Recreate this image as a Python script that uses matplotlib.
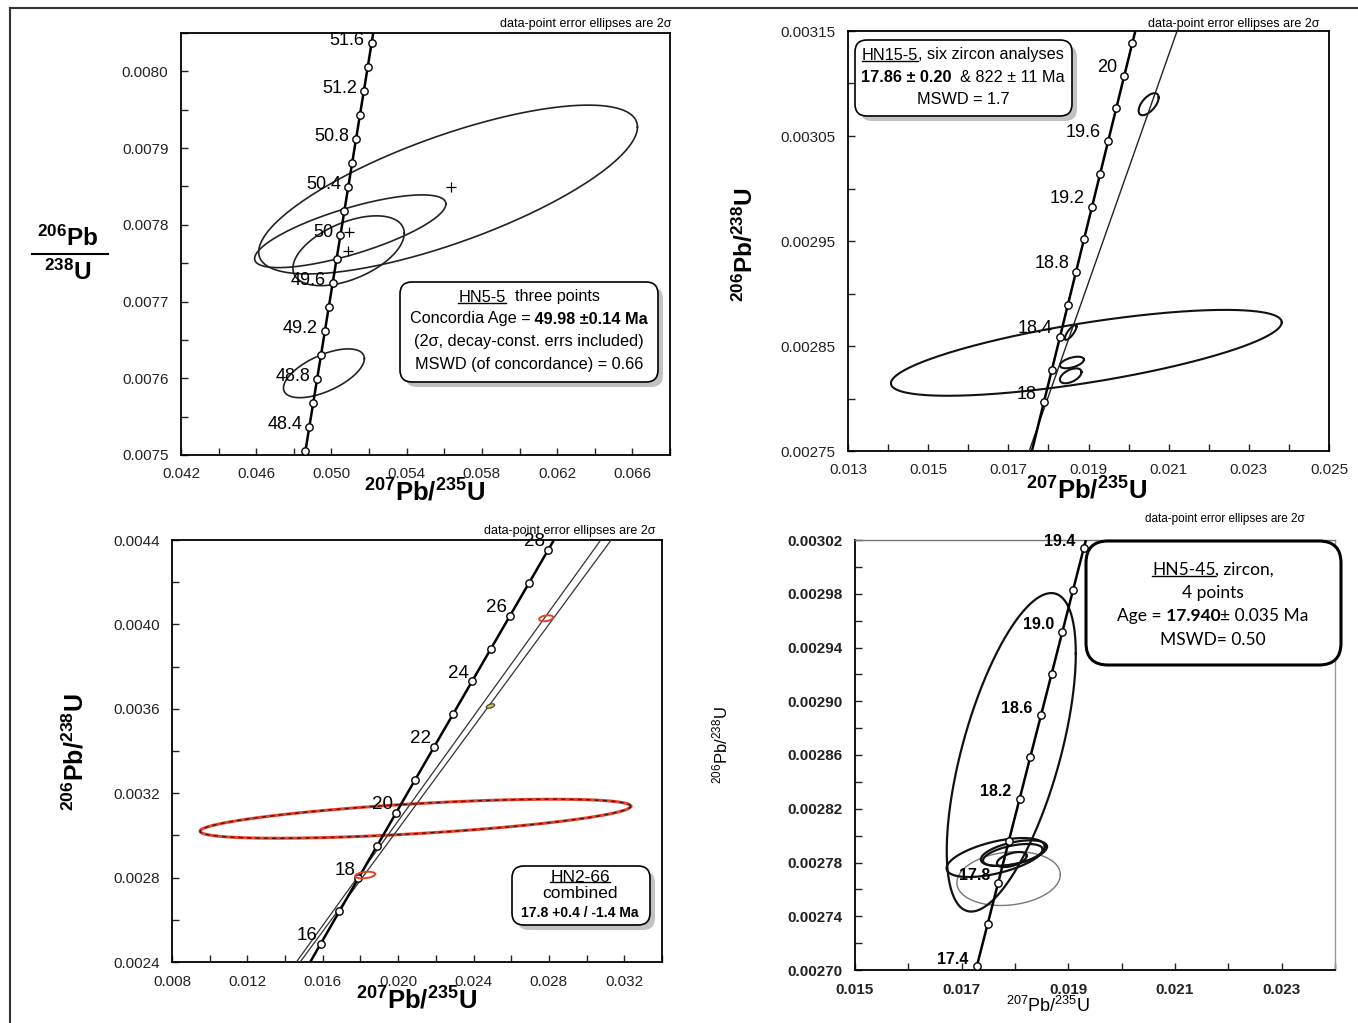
import numpy as np
import matplotlib
matplotlib.use('Agg')
import matplotlib.pyplot as plt
from matplotlib.patches import FancyBboxPatch
from matplotlib.lines import Line2D
from matplotlib.ticker import FixedLocator, FormatStrFormatter
from matplotlib.transforms import IdentityTransform

W, H = 1358, 1023
NARROW = ['Liberation Sans Narrow', 'Liberation Sans', 'DejaVu Sans']
ARIAL = ['Liberation Sans', 'DejaVu Sans']
CALIB = ['Lato', 'Liberation Sans', 'DejaVu Sans']

plt.rcParams['font.family'] = NARROW
plt.rcParams['mathtext.fontset'] = 'custom'
plt.rcParams['mathtext.rm'] = 'Liberation Sans'
plt.rcParams['mathtext.bf'] = 'Liberation Sans:bold'
plt.rcParams['mathtext.it'] = 'Liberation Sans:italic'

# ---------------- panel 1 : HN5-5 ----------------
p1_ages = [48.2, 48.4, 48.6, 48.8, 49.0, 49.2, 49.4, 49.6, 49.8, 50.0,
           50.2, 50.4, 50.6, 50.8, 51.0, 51.2, 51.4, 51.6]
p1_conc_x = [0.048615, 0.048821, 0.049028, 0.049235, 0.049442, 0.049649, 0.049855, 0.050062, 0.050269,
             0.050476, 0.050683, 0.050890, 0.051097, 0.051304, 0.051511, 0.051718, 0.051925, 0.052132]
p1_conc_y = [0.0075050, 0.0075363, 0.0075675, 0.0075988, 0.0076300, 0.0076613, 0.0076925, 0.0077238, 0.0077551,
             0.0077863, 0.0078176, 0.0078489, 0.0078801, 0.0079114, 0.0079427, 0.0079739, 0.0080052, 0.0080365]
p1_tail_x = [0.052235]
p1_tail_y = [0.0080521]
p1_label_ages = [48.4, 48.8, 49.2, 49.6, 50.0, 50.4, 50.8, 51.2, 51.6]
p1_label_text = ['48.4', '48.8', '49.2', '49.6', '50', '50.4', '50.8', '51.2', '51.6']
p1_ell_cx = [0.05620, 0.05100, 0.05091, 0.04960]
p1_ell_cy = [0.007846, 0.0077916, 0.0077662, 0.0076065]
p1_ell_hx = [0.01007, 0.005085, 0.00296, 0.00215]
p1_ell_hy = [0.000110, 0.0000474, 0.0000455, 0.0000318]
p1_ell_rho = [0.74, 0.75, 0.50, 0.60]
p1_plus_x = [0.05636, 0.05095, 0.05087]
p1_plus_y = [0.0078494, 0.0077909, 0.0077662]
p1_xticks = [0.042, 0.046, 0.050, 0.054, 0.058, 0.062, 0.066]
p1_yticks = [0.0075, 0.0076, 0.0077, 0.0078, 0.0079, 0.0080]

# ---------------- panel 2 : HN15-5 ----------------
p2_ages = [18.0, 18.2, 18.4, 18.6, 18.8, 19.0, 19.2, 19.4, 19.6, 19.8, 20.0, 20.2]
p2_conc_x = [0.017885, 0.018086, 0.018287, 0.018487, 0.018688, 0.018888,
             0.019089, 0.019290, 0.019490, 0.019691, 0.019892, 0.020093]
p2_conc_y = [0.0027962, 0.0028273, 0.0028584, 0.0028895, 0.0029206, 0.0029517,
             0.0029828, 0.0030140, 0.0030451, 0.0030762, 0.0031073, 0.0031384]
p2_head_x = [0.017585]
p2_head_y = [0.0027495]
p2_tail_x = [0.020194]
p2_tail_y = [0.0031540]
p2_label_ages = [18.0, 18.4, 18.8, 19.2, 19.6, 20.0]
p2_label_text = ['18', '18.4', '18.8', '19.2', '19.6', '20']
p2_disc_x = [0.01752, 0.02121]
p2_disc_y = [0.00275, 0.00315]
p2_ell_cx = [0.018946, 0.02050, 0.018556, 0.018586, 0.018556]
p2_ell_cy = [0.0028435, 0.0030803, 0.0028629, 0.0028343, 0.0028216]
p2_ell_hx = [0.004875, 0.00025, 0.000146, 0.00030, 0.00027]
p2_ell_hy = [0.0000409, 0.0000105, 0.0000071, 0.0000055, 0.0000071]
p2_ell_rho = [0.71, 0.60, 0.80, 0.50, 0.50]
p2_xticks = [0.013, 0.015, 0.017, 0.019, 0.021, 0.023, 0.025]
p2_yticks = [0.00275, 0.00285, 0.00295, 0.00305, 0.00315]

# ---------------- panel 3 : HN2-66 ----------------
p3_ages = [16, 17, 18, 19, 20, 21, 22, 23, 24, 25, 26, 27, 28]
p3_conc_x = [0.015882, 0.016883, 0.017885, 0.018888, 0.019892, 0.020897, 0.021903,
             0.022910, 0.023918, 0.024927, 0.025937, 0.026948, 0.027960]
p3_conc_y = [0.0024851, 0.0026406, 0.0027962, 0.0029517, 0.0031073, 0.0032629, 0.0034186,
             0.0035742, 0.0037299, 0.0038856, 0.0040414, 0.0041971, 0.0043529]
p3_head_x = [0.015332]
p3_head_y = [0.0023996]
p3_tail_x = [0.028263]
p3_tail_y = [0.0043997]
p3_label_ages = [16, 18, 20, 22, 24, 26, 28]
p3_label_text = ['16', '18', '20', '22', '24', '26', '28']
p3_discA_x = [0.01460, 0.03075]
p3_discB_x = [0.01480, 0.03130]
p3_disc_y = [0.0024, 0.0044]
p3_ell_cx = [0.020915, 0.01825, 0.02785]
p3_ell_cy = [0.003079, 0.002812, 0.004029]
p3_ell_hx = [0.011425, 0.00053, 0.00037]
p3_ell_hy = [0.0000925, 0.0000157, 0.0000142]
p3_ell_rho = [0.64, 0.30, 0.30]
p3_yel = (0.0249, 0.003613, 0.00022, 0.0000105, 0.5)
p3_xticks = [0.008, 0.012, 0.016, 0.020, 0.024, 0.028, 0.032]
p3_yticks = [0.0024, 0.0028, 0.0032, 0.0036, 0.0040, 0.0044]

# ---------------- panel 4 : HN5-45 ----------------
p4_ages = [17.4, 17.6, 17.8, 18.0, 18.2, 18.4, 18.6, 18.8, 19.0, 19.2, 19.4]
p4_conc_x = [0.017284, 0.017485, 0.017685, 0.017885, 0.018086, 0.018286,
             0.018487, 0.018688, 0.018888, 0.019089, 0.019290]
p4_conc_y = [0.0027028, 0.0027339, 0.0027650, 0.0027962, 0.0028273, 0.0028584,
             0.0028895, 0.0029206, 0.0029517, 0.0029828, 0.0030140]
p4_tail_x = [0.019330]
p4_tail_y = [0.0030201]
p4_label_ages = [17.4, 17.8, 18.2, 18.6, 19.0, 19.4]
p4_label_text = ['17.4', '17.8', '18.2', '18.6', '19.0', '19.4']
p4_ell_cx = [0.01793, 0.017638, 0.01798, 0.01796, 0.017941]
p4_ell_cy = [0.002862, 0.0027837, 0.002787, 0.0027856, 0.0027822]
p4_ell_hx = [0.00121, 0.000921, 0.00062, 0.00056, 0.00028]
p4_ell_hy = [0.0001185, 0.0000145, 0.0000095, 0.0000082, 0.0000056]
p4_ell_rho = [0.62, 0.55, 0.50, 0.50, 0.50]
p4_gray = (0.01788, 0.002768, 0.00097, 0.00002, 0.15)
p4_xticks = [0.015, 0.017, 0.019, 0.021, 0.023]
p4_yticks = [0.00270, 0.00274, 0.00278, 0.00282, 0.00286, 0.00290, 0.00294, 0.00298, 0.00302]


fig = plt.figure(figsize=(W / 100, H / 100), dpi=100)
fig.patch.set_facecolor('white')


def fx(x):
    return x / W


def fy(y):
    return 1 - y / H


def make_axes(l, t, r, b):
    return fig.add_axes([l / W, 1 - b / H, (r - l) / W, (b - t) / H])


def ell_pts(cx, cy, hx, hy, rho):
    th = np.linspace(0, 2 * np.pi, 400)
    return (cx + hx * np.cos(th),
            cy + hy * (rho * np.cos(th) + np.sqrt(1 - rho ** 2) * np.sin(th)))


def style(ax, xlim, ylim, xt, yt, xstep, ystep, xfmt, yfmt, size=11, weight='normal'):
    ax.set_xlim(xlim)
    ax.set_ylim(ylim)
    ax.xaxis.set_major_locator(FixedLocator(xt))
    ax.yaxis.set_major_locator(FixedLocator(yt))
    ax.xaxis.set_minor_locator(FixedLocator(np.arange(xlim[0], xlim[1] + 1e-9, xstep)))
    ax.yaxis.set_minor_locator(FixedLocator(np.arange(ylim[0], ylim[1] + 1e-12, ystep)))
    ax.xaxis.set_major_formatter(FormatStrFormatter(xfmt))
    ax.yaxis.set_major_formatter(FormatStrFormatter(yfmt))
    ax.tick_params(which='both', direction='in', length=5, width=1, labelsize=size,
                   colors='#222222', pad=9)
    for lab in ax.get_xticklabels() + ax.get_yticklabels():
        lab.set_fontweight(weight)
    for s in ax.spines.values():
        s.set_linewidth(1.3)


def concordia(ax, xs, ys, lab_ages, lab_txt, ages, off, size, weight='normal'):
    ax.plot(xs, ys, color='black', lw=1.8, zorder=3, solid_capstyle='butt')
    for a, txt in zip(lab_ages, lab_txt):
        i = ages.index(a)
        ax.annotate(txt, (ages_x[i], ages_y[i]), xytext=off, textcoords='offset points',
                    ha='right', va='center', fontsize=size, fontweight=weight, zorder=6)


def box(l, t, r, b, shadow=True, lw=1.2, rad=12):
    if shadow:
        fig.add_artist(FancyBboxPatch((l + 5, H - b - 5), r - l, b - t,
                                      boxstyle='round,pad=0,rounding_size=%d' % rad,
                                      fc='#c2c2c2', ec='none', transform=IdentityTransform(), zorder=8))
    fig.add_artist(FancyBboxPatch((l, H - b), r - l, b - t,
                                  boxstyle='round,pad=0,rounding_size=%d' % rad,
                                  fc='white', ec='black', lw=lw, transform=IdentityTransform(), zorder=9))


def rich_line(xc, yc, parts, size, family):
    r = fig.canvas.get_renderer()
    items = []
    for s, bold, ul in parts:
        t = fig.text(0, 0, s, fontsize=size, family=family,
                     fontweight='bold' if bold else 'normal',
                     ha='left', va='center', zorder=10)
        items.append((t, t.get_window_extent(r).width, ul))
    x = xc - sum(w for _, w, _ in items) / 2
    for t, w, ul in items:
        t.set_position((x / W, 1 - yc / H))
        if ul:
            bb = t.get_window_extent(r)
            yl = bb.y0 + 0.12 * size * 100 / 72
            fig.add_artist(Line2D([bb.x0, bb.x1], [yl, yl], color='black', lw=1,
                                  transform=IdentityTransform(), zorder=10))
        x += w


def markers(ax, xs, ys):
    ax.plot(xs, ys, 'o', ms=5.3, mfc='white', mec='black', mew=1, zorder=5, clip_on=False)


# ================= panel 1 =================
ax1 = make_axes(181, 33, 670, 455)
style(ax1, (0.042, 0.068), (0.0075, 0.00805), p1_xticks, p1_yticks, 0.002, 0.00005, '%.3f', '%.4f', 11)
for i in range(len(p1_ell_cx)):
    ex, ey = ell_pts(p1_ell_cx[i], p1_ell_cy[i], p1_ell_hx[i], p1_ell_hy[i], p1_ell_rho[i])
    ax1.plot(ex, ey, color='#222222', lw=1.2, zorder=2)
ax1.plot(p1_plus_x, p1_plus_y, '+', color='black', ms=7, mew=0.9, zorder=2)
ages_x, ages_y = p1_conc_x, p1_conc_y
concordia(ax1, p1_conc_x + p1_tail_x, p1_conc_y + p1_tail_y, p1_label_ages, p1_label_text,
          p1_ages, (-5, 2), 13)
markers(ax1, p1_conc_x, p1_conc_y)

# ================= panel 2 =================
ax2 = make_axes(848, 31, 1329, 451)
style(ax2, (0.013, 0.025), (0.00275, 0.00315), p2_xticks, p2_yticks, 0.001, 0.00005, '%.3f', '%.5f', 11)
for i in range(len(p2_ell_cx)):
    ex, ey = ell_pts(p2_ell_cx[i], p2_ell_cy[i], p2_ell_hx[i], p2_ell_hy[i], p2_ell_rho[i])
    ax2.plot(ex, ey, color='#111111', lw=1.5, zorder=2)
ax2.plot(p2_disc_x, p2_disc_y, color='#222222', lw=1.0, zorder=3)
ages_x, ages_y = p2_conc_x, p2_conc_y
concordia(ax2, p2_head_x + p2_conc_x + p2_tail_x, p2_head_y + p2_conc_y + p2_tail_y,
          p2_label_ages, p2_label_text, p2_ages, (-5, 6), 13)
markers(ax2, p2_conc_x, p2_conc_y)

# ================= panel 3 =================
ax3 = make_axes(172, 540, 662, 962)
style(ax3, (0.008, 0.034), (0.0024, 0.0044), p3_xticks, p3_yticks, 0.002, 0.0002, '%.3f', '%.4f', 11)
ax3.plot(p3_discA_x, p3_disc_y, color='#333333', lw=0.9, zorder=3)
ax3.plot(p3_discB_x, p3_disc_y, color='#333333', lw=0.9, zorder=3)
ex, ey = ell_pts(p3_ell_cx[0], p3_ell_cy[0], p3_ell_hx[0], p3_ell_hy[0], p3_ell_rho[0])
ax3.plot(ex, ey, color='#e8412c', lw=2.2, zorder=2)
ax3.plot(ex, ey, color='#3a1a14', lw=1.0, dashes=(3, 3), zorder=2)
for i in range(1, len(p3_ell_cx)):
    ex, ey = ell_pts(p3_ell_cx[i], p3_ell_cy[i], p3_ell_hx[i], p3_ell_hy[i], p3_ell_rho[i])
    ax3.plot(ex, ey, color='#e8412c', lw=1.4, zorder=6)
ex, ey = ell_pts(*p3_yel)
ax3.fill(ex, ey, fc='#e0cc30', ec='#444444', lw=0.9, zorder=6)
ages_x, ages_y = p3_conc_x, p3_conc_y
concordia(ax3, p3_head_x + p3_conc_x + p3_tail_x, p3_head_y + p3_conc_y + p3_tail_y,
          p3_label_ages, p3_label_text, p3_ages, (-2, 6), 13.5)
markers(ax3, p3_conc_x, p3_conc_y)

# ================= panel 4 =================
ax4 = make_axes(855, 540, 1335, 970)
style(ax4, (0.015, 0.024), (0.0027, 0.00302), p4_xticks, p4_yticks, 0.001, 0.00002, '%.3f', '%.5f',
      11, weight='bold')
ax4.spines['top'].set_color('#777777')
ax4.spines['right'].set_color('#999999')
ax4.spines['top'].set_linewidth(1.0)
ax4.spines['right'].set_linewidth(1.0)
ex, ey = ell_pts(*p4_gray)
ax4.plot(ex, ey, color='#777777', lw=1.0, zorder=2)
for i in range(len(p4_ell_cx)):
    ex, ey = ell_pts(p4_ell_cx[i], p4_ell_cy[i], p4_ell_hx[i], p4_ell_hy[i], p4_ell_rho[i])
    ax4.plot(ex, ey, color='#111111', lw=1.6, zorder=2)
ages_x, ages_y = p4_conc_x, p4_conc_y
concordia(ax4, p4_conc_x + p4_tail_x, p4_conc_y + p4_tail_y, p4_label_ages, p4_label_text,
          p4_ages, (-6, 5), 11.5, weight='bold')
markers(ax4, p4_conc_x, p4_conc_y)

# ================= axis titles =================
bold_x = r'$^{\mathbf{207}}\mathbf{Pb/}^{\mathbf{235}}\mathbf{U}$'
bold_y = r'$^{\mathbf{206}}\mathbf{Pb/}^{\mathbf{238}}\mathbf{U}$'
fig.text(fx(425), fy(493), bold_x, fontsize=18.5, ha='center', va='center')
fig.text(fx(68), fy(238), r'$^{\mathbf{206}}\mathbf{Pb}$', fontsize=17.5, ha='center', va='center')
fig.text(fx(68), fy(272), r'$^{\mathbf{238}}\mathbf{U}$', fontsize=17.5, ha='center', va='center')
fig.add_artist(Line2D([fx(32), fx(108)], [fy(254), fy(254)], color='black', lw=1.5))
fig.text(fx(1087), fy(490), bold_x, fontsize=18.5, ha='center', va='center')
fig.text(fx(745), fy(245), bold_y, fontsize=17.5, ha='center', va='center', rotation=90)
fig.text(fx(417), fy(1000), bold_x, fontsize=18.5, ha='center', va='center')
fig.text(fx(75), fy(752), bold_y, fontsize=18, ha='center', va='center', rotation=90)
fig.text(fx(1048), fy(1006), r'$^{207}\mathrm{Pb/}^{235}\mathrm{U}$', fontsize=13, ha='center', va='center')
fig.text(fx(720), fy(745), r'$^{206}\mathrm{Pb/}^{238}\mathrm{U}$', fontsize=12, ha='center', va='center',
         rotation=90)

note = 'data-point error ellipses are 2σ'
fig.text(fx(672), fy(24), note, fontsize=9, ha='right', va='center')
fig.text(fx(1320), fy(24), note, fontsize=9, ha='right', va='center')
fig.text(fx(655), fy(531), note, fontsize=9, ha='right', va='center', zorder=10)
fig.text(fx(1305), fy(519), note, fontsize=8.5, ha='right', va='center', family=ARIAL)

# ================= text boxes =================
box(400, 282, 658, 382)
rich_line(529, 297, [('HN5-5', False, True), ('  three points', False, False)], 11.7, NARROW)
rich_line(529, 319, [('Concordia Age =', False, False), (' 49.98 \u00b10.14 Ma', True, False)], 11.7, NARROW)
rich_line(529, 342, [('(2\u03c3, decay-const. errs included)', False, False)], 11.7, NARROW)
rich_line(529, 364, [('MSWD (of concordance) = 0.66', False, False)], 11.7, NARROW)

box(855, 40, 1072, 116)
rich_line(963, 55, [('HN15-5', False, True), (', six zircon analyses', False, False)], 11.7, NARROW)
rich_line(963, 77, [('17.86 \u00b1 0.20', True, False), ('  & 822 \u00b1 11 Ma', False, False)], 11.7, NARROW)
rich_line(963, 99, [('MSWD = 1.7', False, False)], 11.7, NARROW)

box(512, 866, 650, 925)
rich_line(580, 877, [('HN2-66', False, True)], 12.5, NARROW)
rich_line(580, 894, [('combined', False, False)], 12.5, NARROW)
rich_line(580, 913, [('17.8 +0.4 / -1.4 Ma', True, False)], 10, NARROW)

box(1086, 541, 1341, 665, shadow=False, lw=2.2, rad=22)
rich_line(1213, 570, [('HN5-45', False, True), (', zircon,', False, False)], 12.5, CALIB)
rich_line(1213, 593, [('4 points', False, False)], 12.5, CALIB)
rich_line(1213, 616, [('Age =', False, False), (' 17.940', True, False), ('\u00b1 0.035 Ma', False, False)],
          12.5, CALIB)
rich_line(1213, 640, [('MSWD= 0.50', False, False)], 12.5, CALIB)

# outer frame of the composite figure
fig.add_artist(Line2D([fx(10), fx(10)], [fy(8), fy(1023)], color='#333333', lw=1.5))
fig.add_artist(Line2D([fx(10), fx(1358)], [fy(8), fy(8)], color='#333333', lw=1.5))

fig.savefig('out.png', dpi=100)
